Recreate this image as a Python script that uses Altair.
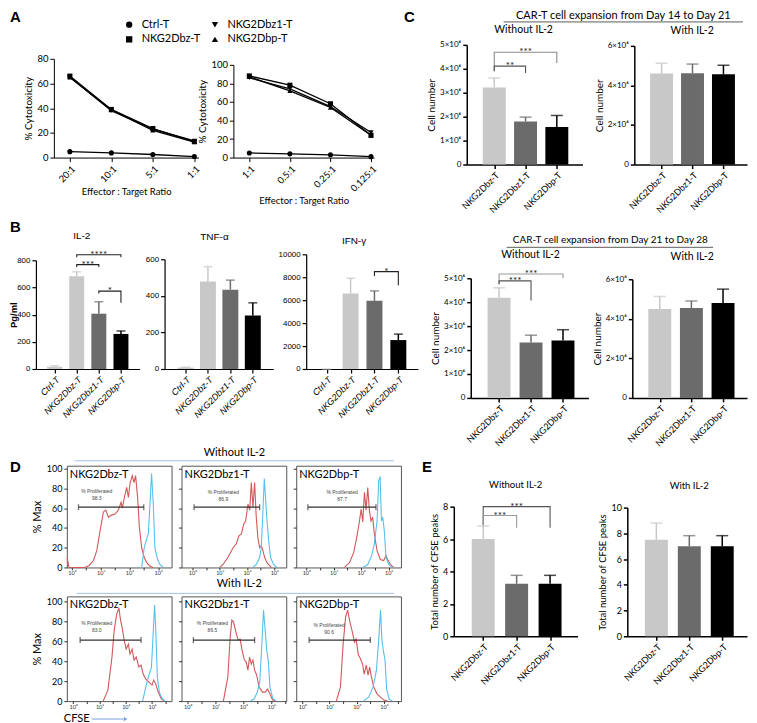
import altair as alt
import pandas as pd

FONT = "Lato"
ARIAL = "Liberation Sans"
BOLD = "Liberation Sans"
RED = "#d2585b"
BLUE = "#56c1ee"
HEADLINE = "#a6bfe6"

# ---------------------------------------------------------------- data
lines_series = ["Ctrl-T", "NKG2Dbz-T", "NKG2Dbz1-T", "NKG2Dbp-T"]
legend_order = ["Ctrl-T", "NKG2Dbz-T", "NKG2Dbz1-T", "NKG2Dbp-T"]
legend_shapes = ["circle", "square", "triangle-down", "triangle-up"]

a1_ratios = ["20:1", "10:1", "5:1", "1:1"]
a1_ctrl = [4.8, 3.8, 2.5, 0.8]
a1_bz = [66.0, 39.0, 23.5, 13.0]
a1_bz1 = [65.0, 38.0, 23.0, 13.5]
a1_bp = [65.0, 38.5, 22.0, 12.5]

a2_ratios = ["1:1", "0.5:1", "0.25:1", "0.125:1"]
a2_ctrl = [5.0, 4.0, 3.0, 1.0]
a2_bz = [88.0, 78.0, 58.0, 24.0]
a2_bz1 = [86.0, 74.0, 55.0, 27.0]
a2_bp = [87.0, 72.0, 54.0, 24.0]

b_groups = ["Ctrl-T", "NKG2Dbz-T", "NKG2Dbz1-T", "NKG2Dbp-T"]
b_colors = ["#5a5a5a", "#c9c9c9", "#8d8d92", "#2a2a2a"]
il2_mean = [17, 683, 407, 258]
il2_err = [7, 32, 88, 22]
tnf_mean = [8, 479, 434, 293]
tnf_err = [2, 81, 52, 69]
ifn_mean = [0, 6580, 5940, 2520]
ifn_err = [0, 1330, 870, 520]

c_groups = ["NKG2Dbz-T", "NKG2Dbz1-T", "NKG2Dbp-T"]
c_colors = ["#c8c8c8", "#6b6b6b", "#000000"]
c14_wo_mean = [3.22e6, 1.80e6, 1.57e6]
c14_wo_err = [0.40e6, 0.18e6, 0.48e6]
c14_w_mean = [4.60e6, 4.62e6, 4.56e6]
c14_w_err = [0.52e6, 0.46e6, 0.46e6]
c21_wo_mean = [4.19e6, 2.32e6, 2.40e6]
c21_wo_err = [0.41e6, 0.30e6, 0.45e6]
c21_w_mean = [4.50e6, 4.54e6, 4.80e6]
c21_w_err = [0.63e6, 0.36e6, 0.70e6]

e_wo_mean = [6.0, 3.24, 3.24]
e_wo_err = [0.8, 0.52, 0.52]
e_w_mean = [7.5, 7.0, 7.0]
e_w_err = [1.3, 0.82, 0.82]

# significance brackets: (from group, to group, top, left foot, right foot)
il2_brackets = [(1, 3, 841, 822, 822), (1, 2, 768, 751, 751), (2, 3, 573, 555, 488)]
il2_stars = ["****", "***", "*"]
ifn_brackets = [(2, 3, 8490, 8116, 7300)]
ifn_stars = ["*"]
c14_brackets = [(0, 2, 4.69e6, 3.90e6, 4.24e6), (0, 1, 4.11e6, 3.90e6, 3.82e6)]
c14_stars = ["***", "**"]
c21_brackets = [(0, 2, 5.18e6, 4.75e6, 5.00e6), (0, 1, 4.89e6, 4.75e6, 4.07e6)]
c21_stars = ["***", "***"]
e_brackets = [(0, 2, 8.0, 6.85, 6.69), (0, 1, 7.45, 6.85, 6.69)]
e_stars = ["***", "***"]

# CFSE histograms (log10 CFSE, % of max)
d_names = ["NKG2Dbz-T", "NKG2Dbz1-T", "NKG2Dbp-T", "NKG2Dbz-T", "NKG2Dbz1-T", "NKG2Dbp-T"]
d_prolif = ["98.3", "86.9", "87.7", "83.0", "86.5", "90.6"]
gate_lo = [0.46, 0.12, 0.12, 0.53, 0.41, 0.50]
gate_hi = [5.00, 4.93, 5.08, 5.16, 4.80, 5.00]
gate_y = [61, 61, 61, 61, 61, 61]

red1_x = [-0.33, -0.2, 0.9, 1.2, 1.5, 1.73, 1.96, 2.19, 2.36, 2.54, 2.77, 3.0, 3.23, 3.42, 3.51, 3.65, 3.81,
          3.93, 4.04, 4.2, 4.32, 4.43, 4.57, 4.69, 4.85, 5.03, 5.24, 5.47, 5.66]
red1_y = [10, 0, 0, 2, 7, 17, 37, 56, 58, 51, 53, 54, 58, 66, 60, 71, 81, 71, 85, 93, 86, 93, 71, 41, 20, 10, 4, 1, 0]
blue1_x = [4.85, 5.03, 5.2, 5.31, 5.43, 5.54, 5.66, 5.77, 5.96, 6.12, 6.35]
blue1_y = [0, 20, 29, 34, 64, 95, 64, 20, 8, 3, 0]

red2_x = [2.0, 2.24, 2.6, 2.98, 3.22, 3.41, 3.59, 3.76, 3.9, 4.07, 4.2, 4.32, 4.44, 4.56, 4.68, 4.8, 4.93,
          5.05, 5.15, 5.3, 5.5, 5.8]
red2_y = [0, 3, 10, 20, 24, 32, 34, 44, 47, 64, 58, 86, 61, 86, 51, 30, 20, 22, 18, 10, 4, 0]
blue2_x = [4.44, 4.68, 4.93, 5.05, 5.17, 5.27, 5.37, 5.46, 5.59, 5.73, 5.95, 6.2]
blue2_y = [0, 3, 10, 20, 58, 90, 68, 49, 27, 10, 3, 0]

red3_x = [2.78, 3.15, 3.46, 3.7, 3.87, 4.0, 4.12, 4.24, 4.36, 4.48, 4.6, 4.72, 4.84, 4.96, 5.16, 5.4, 5.64,
          5.81, 5.93, 6.13, 6.37]
red3_y = [0, 5, 15, 32, 46, 59, 46, 76, 58, 81, 58, 47, 51, 34, 17, 8, 7, 12, 8, 3, 0]
blue3_x = [4.12, 4.48, 4.77, 4.96, 5.16, 5.28, 5.38, 5.48, 5.57, 5.69, 5.81, 6.05, 6.3]
blue3_y = [0, 3, 12, 24, 47, 88, 92, 47, 51, 37, 10, 2, 0]

red4_x = [2.28, 2.64, 2.95, 3.12, 3.31, 3.48, 3.6, 3.72, 3.88, 4.03, 4.2, 4.32, 4.48, 4.63, 4.8, 4.99, 5.16,
          5.32, 5.52, 5.76, 6.0, 6.12, 6.28, 6.47, 6.71, 6.95]
red4_y = [0, 11, 44, 71, 87, 93, 81, 74, 61, 52, 57, 47, 52, 41, 44, 34, 36, 27, 22, 19, 16, 21, 17, 9, 2, 0]
blue4_x = [5.28, 5.52, 5.76, 5.95, 6.07, 6.19, 6.28, 6.4, 6.55, 6.71, 6.95]
blue4_y = [0, 14, 26, 34, 64, 96, 71, 24, 9, 4, 0]

red5_x = [2.56, 2.88, 3.05, 3.17, 3.29, 3.46, 3.61, 3.76, 3.9, 4.07, 4.2, 4.32, 4.44, 4.56, 4.68, 4.8, 4.95,
          5.12, 5.37, 5.56, 5.73, 5.9, 6.1, 6.3]
red5_y = [0, 24, 64, 81, 79, 69, 61, 62, 51, 41, 39, 31, 44, 37, 41, 31, 26, 14, 9, 9, 12, 7, 1, 0]
blue5_x = [4.51, 4.76, 5.0, 5.17, 5.32, 5.44, 5.54, 5.66, 5.78, 5.9, 6.1, 6.34]
blue5_y = [0, 2, 9, 19, 57, 91, 74, 52, 41, 14, 3, 0]

red6_x = [2.5, 2.8, 3.0, 3.18, 3.33, 3.5, 3.68, 3.83, 3.95, 4.12, 4.25, 4.43, 4.55, 4.7, 4.83, 4.95, 5.08,
          5.25, 5.5, 5.75, 6.0, 6.25]
red6_y = [0, 14, 57, 84, 91, 79, 69, 59, 62, 46, 43, 37, 27, 36, 26, 34, 24, 14, 7, 4, 1, 0]
blue6_x = [4.5, 4.88, 5.2, 5.45, 5.63, 5.75, 5.85, 5.95, 6.08, 6.2, 6.38, 6.63]
blue6_y = [0, 4, 14, 31, 64, 91, 61, 51, 41, 12, 2, 0]

d_red = [(red1_x, red1_y), (red2_x, red2_y), (red3_x, red3_y), (red4_x, red4_y), (red5_x, red5_y), (red6_x, red6_y)]
d_blue = [(blue1_x, blue1_y), (blue2_x, blue2_y), (blue3_x, blue3_y), (blue4_x, blue4_y), (blue5_x, blue5_y),
          (blue6_x, blue6_y)]

# ---------------------------------------------------------------- layout grid (page pixels)
COLX = [65, 180, 295, 410, 610]
COLW = [105, 105, 105, 190, 138]
ROWY = [43, 253, 465, 596]
ROWH = [181, 183, 102, 105]
D_XDOM = [[-0.35, 6.93], [-0.8, 6.88], [-0.73, 6.9], [-0.48, 7.48], [-0.44, 7.07], [-0.45, 7.25]]
D_YMAX = [103, 104.7]

ONE = alt.Data(values=[{"k": 0}])


def cell(r, c):
    return {"cx": COLX[c], "cy": ROWY[r], "w": COLW[c], "h": ROWH[r]}


def frame(r, c, x0, y0, x1, y1):
    g = cell(r, c)
    g.update(xr=[x0 - g["cx"], x1 - g["cx"]], yr=[y1 - g["cy"], y0 - g["cy"]],
             yoff=g["cx"] - x0, xoff=(y1 - g["cy"]) - g["h"])
    return g


def label(g, px, py, s, size=10, weight="normal", align="center", baseline="middle",
          color="black", font=FONT, style="normal"):
    return alt.Chart(ONE).mark_text(
        text=s, fontSize=size, fontWeight=weight, align=align, baseline=baseline,
        color=color, font=font, fontStyle=style
    ).encode(x=alt.value(px - g["cx"]), y=alt.value(py - g["cy"]))


def hline(g, x0, x1, y, color, width=1.0):
    return alt.Chart(ONE).mark_rule(color=color, strokeWidth=width).encode(
        x=alt.value(x0 - g["cx"]), x2=alt.value(x1 - g["cx"]), y=alt.value(y - g["cy"]))


def js_list(items):
    return "[" + ",".join("'" + s + "'" for s in items) + "]"


def line_panel(g, ratios, ctrl, bz, bz1, bp, xdom, ydom, yvals, legend, extra):
    rows = []
    for s, vals in zip(lines_series, [ctrl, bz, bz1, bp]):
        for i, v in enumerate(vals):
            rows.append({"i": i, "s": s, "v": v})
    df = pd.DataFrame(rows)
    xs = alt.Scale(domain=xdom, range=g["xr"], nice=False, zero=False)
    ys = alt.Scale(domain=ydom, range=g["yr"], nice=False, zero=False)
    xaxis = alt.Axis(values=[0, 1, 2, 3], labelExpr=js_list(ratios) + "[datum.value]", labelAngle=-45,
                     offset=g["xoff"], title="Effector : Target Ratio", labelFontSize=9.5,
                     titleFontSize=9.5, titlePadding=3)
    yaxis = alt.Axis(values=yvals, offset=g["yoff"], title="% Cytotoxicity", labelFontSize=9.5,
                     titleFontSize=10, titlePadding=3)
    X = alt.X("i:Q", scale=xs, axis=xaxis)
    Y = alt.Y("v:Q", scale=ys, axis=yaxis)
    lines = alt.Chart(df).mark_line(color="black", strokeWidth=1.3).encode(x=X, y=Y, detail="s:N")
    pts = alt.Chart(df).mark_point(filled=True, color="black", size=26, opacity=1).encode(
        x=X, y=Y, shape=alt.Shape("s:N", scale=alt.Scale(domain=legend_order, range=legend_shapes),
                                  legend=legend))
    return alt.layer(lines, pts, *extra).properties(width=g["w"], height=g["h"])


def bar_panel(g, cats, means, errs, colors, ydom, yvals, xdom, bar_w, cap_w, ytitle,
              tick_font=FONT, tick_style="normal", tick_size=9, ylab_font=FONT, ylab_size=8,
              ylab_expr=None, ylab_format=None, ytitle_size=10, ytitle_font=FONT, ytitle_weight="normal",
              ytitle_x=None, axis_w=1.5, brackets=(), stars=(), bracket_colors=(), extra=()):
    n = len(cats)
    df = pd.DataFrame({"i": list(range(n)), "cat": cats, "m": means,
                       "hi": [m + e for m, e in zip(means, errs)]})
    xs = alt.Scale(domain=xdom, range=g["xr"], nice=False, zero=False)
    ys = alt.Scale(domain=ydom, range=g["yr"], nice=False, zero=False)
    xaxis = alt.Axis(values=list(range(n)), labelExpr=js_list(cats) + "[datum.value]", labelAngle=-45,
                     offset=g["xoff"], title=None, labelFont=tick_font, labelFontStyle=tick_style,
                     labelFontSize=tick_size, domainWidth=axis_w, tickWidth=axis_w)
    ykw = dict(values=yvals, offset=g["yoff"], title=ytitle, labelFont=ylab_font, labelFontSize=ylab_size,
               titleFontSize=ytitle_size, titleFont=ytitle_font, titleFontWeight=ytitle_weight,
               domainWidth=axis_w, tickWidth=axis_w, titlePadding=3)
    if ylab_expr:
        ykw["labelExpr"] = ylab_expr
    if ylab_format:
        ykw["format"] = ylab_format
    if ytitle_x is not None:
        ykw["titleX"] = ytitle_x
    yaxis = alt.Axis(**ykw)

    def X(f):
        return alt.X(f + ":Q", scale=xs, axis=xaxis)

    def Y(f, **kw):
        return alt.Y(f + ":Q", scale=ys, axis=yaxis, **kw)

    color = alt.Color("cat:N", scale=alt.Scale(domain=cats, range=colors), legend=None)
    base = alt.Chart(df)
    layers = [
        base.mark_rule(strokeWidth=1.5).encode(x=X("i"), y=Y("m"), y2="hi:Q", color=color),
        base.mark_bar(size=bar_w, orient="vertical").encode(x=X("i"), y=Y("m", stack=None), color=color),
        base.mark_tick(orient="horizontal", size=cap_w, thickness=1.5).encode(x=X("i"), y=Y("hi"), color=color),
    ]
    for (i0, i1, top, lf, rf), col in zip(brackets, bracket_colors):
        d = pd.DataFrame({"x": [i0, i0, i1, i1], "y": [lf, top, top, rf], "o": [0, 1, 2, 3]})
        layers.append(alt.Chart(d).mark_line(color=col, strokeWidth=1.1).encode(
            x=X("x"), y=Y("y"), order="o:Q"))
    if len(brackets):
        sd = pd.DataFrame({"x": [(b[0] + b[1]) / 2 for b in brackets], "y": [b[2] for b in brackets],
                           "t": list(stars)})
        layers.append(alt.Chart(sd).mark_text(baseline="alphabetic", dy=3, fontSize=10, font=FONT,
                                              color="#222").encode(x=X("x"), y=Y("y"), text="t:N"))
    return alt.layer(*layers, *extra).properties(width=g["w"], height=g["h"])


def hist_panel(r, c, k, extra=()):
    g = cell(r, c)
    w, h = g["w"], g["h"]
    dom = D_XDOM[k]
    xs = alt.Scale(domain=dom, range=[0, w], nice=False, zero=False)
    ys = alt.Scale(domain=[0, D_YMAX[r - 2]], range=[h, 0], nice=False, zero=False)
    ticks = [v for v in range(8) if dom[0] <= v <= dom[1]]
    xaxis = alt.Axis(values=ticks,
                     labelExpr="datum.value % 2 == 0 ? '10' + ['⁰','¹','²','³','⁴','⁵','⁶','⁷'][datum.value] : ''",
                     labelFontSize=5.5, labelColor="#333", tickSize=2.5, tickColor="#333", domain=False,
                     title=None, labelPadding=1)
    first = c == 0
    ykw = dict(values=[0, 20, 40, 60, 80, 100], labels=first, tickSize=3, tickColor="#333", domain=False,
               labelFontSize=9, titleFontSize=11, titlePadding=4)
    ykw["title"] = "% Max" if first else None
    yaxis = alt.Axis(**ykw)

    def X(f):
        return alt.X(f + ":Q", scale=xs, axis=xaxis)

    def Y(f):
        return alt.Y(f + ":Q", scale=ys, axis=yaxis)

    rx, ry = d_red[k]
    bx, by = d_blue[k]
    red = alt.Chart(pd.DataFrame({"x": rx, "y": ry})).mark_line(color=RED, strokeWidth=1.1).encode(
        x=X("x"), y=Y("y"))
    blue = alt.Chart(pd.DataFrame({"x": bx, "y": by})).mark_line(color=BLUE, strokeWidth=1.1).encode(
        x=X("x"), y=Y("y"))
    gate = alt.Chart(pd.DataFrame({"lo": [gate_lo[k]], "hi": [gate_hi[k]], "y": [gate_y[k]]})).mark_rule(
        color="#333", strokeWidth=1.3).encode(x=X("lo"), x2="hi:Q", y=Y("y"))
    ends = alt.Chart(pd.DataFrame({"x": [gate_lo[k], gate_hi[k]], "y": [gate_y[k], gate_y[k]]})).mark_tick(
        orient="vertical", size=6, thickness=1.3, color="#333").encode(x=X("x"), y=Y("y"))
    tx = [30, 42, 46, 30, 31, 33][k]
    ty = [25, 26, 26, 27, 27, 29][k]
    texts = [
        label(g, g["cx"] + 3, g["cy"] + 9, d_names[k], size=11, align="left"),
        label(g, g["cx"] + tx, g["cy"] + ty, "% Proliferated", size=5, color="#444", font=BOLD),
        label(g, g["cx"] + tx, g["cy"] + ty + 7, d_prolif[k], size=5, color="#444", font=BOLD),
    ]
    return alt.layer(red, blue, gate, ends, *texts, *extra).properties(
        width=w, height=h, view=alt.ViewBackground(stroke="#555", strokeWidth=1))


def spacer(r, c):
    return alt.Chart(ONE).mark_text(text=" ").encode(x=alt.value(0), y=alt.value(0)).properties(
        width=COLW[c], height=ROWH[r])


# ---------------------------------------------------------------- panels
gA1 = frame(0, 0, 52, 57, 197, 156)
gA2 = frame(0, 1, 232, 63, 373, 156)
legA = alt.Legend(orient="none", legendX=57, legendY=-26, columns=2, title=None, labelFont=FONT,
                  labelFontSize=11, symbolSize=40, symbolFillColor="black", symbolStrokeColor="black",
                  symbolStrokeWidth=0, columnPadding=9, rowPadding=3, labelOffset=7)
A1 = line_panel(gA1, a1_ratios, a1_ctrl, a1_bz, a1_bz1, a1_bp, [-0.385, 3.1], [0, 80], [0, 20, 40, 60, 80],
                legA, [label(gA1, 8, 8, "A", size=15, weight="bold", align="left", baseline="top", font=BOLD)])
A2 = line_panel(gA2, a2_ratios, a2_ctrl, a2_bz, a2_bz1, a2_bp, [-0.393, 3.074], [0, 100],
                [0, 20, 40, 60, 80, 100], None, [])

SCI = "datum.value == 0 ? '0' : (datum.value / 1000000) + '×10⁶'"
gC1L = frame(0, 3, 466, 43, 582, 163)
gC1R = frame(0, 4, 634, 44, 747, 163)
C1L = bar_panel(gC1L, c_groups, c14_wo_mean, c14_wo_err, c_colors, [0, 5e6],
                [0, 1e6, 2e6, 3e6, 4e6, 5e6], [-0.72, 2.66], 23, 12, "Cell number", ylab_expr=SCI,
                brackets=c14_brackets, stars=c14_stars, bracket_colors=["#8c8c8c", "#555555"],
                extra=[label(gC1L, 403, 8, "C", size=15, weight="bold", align="left", baseline="top", font=BOLD),
                       label(gC1L, 623, 8, "CAR-T cell expansion from Day 14 to Day 21", size=11, baseline="top"),
                       hline(gC1L, 503, 743, 20, "#333", 0.8),
                       label(gC1L, 523, 28, "Without IL-2", size=10.5)])
C1R = bar_panel(gC1R, c_groups, c14_w_mean, c14_w_err, c_colors, [0, 6e6], [0, 2e6, 4e6, 6e6],
                [-0.72, 2.6], 23, 12, "Cell number", ylab_expr=SCI,
                extra=[label(gC1R, 692, 29, "With IL-2", size=10.5)])

gB1 = frame(1, 0, 34, 259, 138, 368)
gB2 = frame(1, 1, 163, 258, 272, 368)
gB3 = frame(1, 2, 305, 253, 417, 368)
bkw = dict(tick_font=ARIAL, tick_style="italic", tick_size=9, ylab_font=ARIAL, ylab_size=8, axis_w=1.2,
           ylab_format="d")
B1 = bar_panel(gB1, b_groups, il2_mean, il2_err, b_colors, [0, 800], [0, 200, 400, 600, 800],
               [-0.62, 3.62], 15, 9, "Pg/ml", ytitle_font=BOLD, ytitle_weight="bold", ytitle_size=9.5,
               ytitle_x=-17, brackets=il2_brackets, stars=il2_stars, bracket_colors=["#222"] * 3,
               extra=[label(gB1, 8, 219, "B", size=15, weight="bold", align="left", baseline="top", font=BOLD),
                      label(gB1, 80, 235, "IL-2", size=10, font=ARIAL)], **bkw)
B2 = bar_panel(gB2, b_groups, tnf_mean, tnf_err, b_colors, [0, 600], [0, 200, 400, 600],
               [-0.71, 3.69], 16, 9, None, extra=[label(gB2, 213, 236, "TNF-α", size=10, font=ARIAL)], **bkw)
B3 = bar_panel(gB3, b_groups, ifn_mean, ifn_err, b_colors, [0, 10000], [0, 2000, 4000, 6000, 8000, 10000],
               [-0.65, 3.61], 16, 9, None, brackets=ifn_brackets, stars=ifn_stars, bracket_colors=["#222"],
               extra=[label(gB3, 353, 240, "IFN-γ", size=10, font=ARIAL)], **bkw)

gC2L = frame(1, 3, 470, 277, 588, 397)
gC2R = frame(1, 4, 632, 278, 747, 397)
C2L = bar_panel(gC2L, c_groups, c21_wo_mean, c21_wo_err, c_colors, [0, 5e6],
                [0, 1e6, 2e6, 3e6, 4e6, 5e6], [-0.73, 2.64], 23, 12, "Cell number", ylab_expr=SCI,
                brackets=c21_brackets, stars=c21_stars, bracket_colors=["#9a9a9a", "#555555"],
                extra=[label(gC2L, 610, 239, "CAR-T cell expansion from Day 21 to Day 28", size=10),
                       hline(gC2L, 506, 713, 246, "#333", 0.8),
                       label(gC2L, 530, 254, "Without IL-2", size=10.5)])
C2R = bar_panel(gC2R, c_groups, c21_w_mean, c21_w_err, c_colors, [0, 6e6], [0, 2e6, 4e6, 6e6],
                [-0.71, 2.6], 23, 12, "Cell number", ylab_expr=SCI,
                extra=[label(gC2R, 692, 256, "With IL-2", size=10.5)])

gEL = frame(2, 3, 453, 506, 577, 636)
gER = frame(2, 4, 627, 507, 747, 636)
EL = bar_panel(gEL, c_groups, e_wo_mean, e_wo_err, c_colors, [0, 8], [0, 2, 4, 6, 8], [-0.73, 2.67], 23, 12,
               "Total number of CFSE peaks", ylab_size=9, ytitle_size=9.5, brackets=e_brackets, stars=e_stars,
               bracket_colors=["#555555", "#999999"],
               extra=[label(gEL, 421, 459, "E", size=15, weight="bold", align="left", baseline="top", font=BOLD),
                      label(gEL, 515, 484, "Without IL-2", size=9.5)])
ER = bar_panel(gER, c_groups, e_w_mean, e_w_err, c_colors, [0, 10], [0, 2, 4, 6, 8, 10], [-0.73, 2.6], 23, 12,
               "Total number of CFSE peaks", ylab_size=9, ytitle_size=9.5,
               extra=[label(gER, 689, 485, "With IL-2", size=9.5)])

gD1 = cell(2, 0)
gD2 = cell(3, 0)
D11 = hist_panel(2, 0, 0, extra=[
    label(gD1, 8, 459, "D", size=15, weight="bold", align="left", baseline="top", font=BOLD),
    label(gD1, 233, 452, "Without IL-2", size=11),
    hline(gD1, 73, 393, 460, HEADLINE, 1.0)])
D12 = hist_panel(2, 1, 1)
D13 = hist_panel(2, 2, 2)
D21 = hist_panel(3, 0, 3, extra=[
    label(gD2, 238, 584, "With IL-2", size=11),
    hline(gD2, 75, 393, 593, HEADLINE, 1.0),
    label(gD2, 62, 719, "CFSE", size=11, align="left"),
    hline(gD2, 90, 122, 719, "#7a9fd8", 1.0),
    alt.Chart(ONE).mark_point(shape="triangle-right", filled=True, size=18, color="#7a9fd8", opacity=1).encode(
        x=alt.value(124 - gD2["cx"]), y=alt.value(719 - gD2["cy"]))])
D22 = hist_panel(3, 1, 4)
D23 = hist_panel(3, 2, 5)

cells = [A1, A2, spacer(0, 2), C1L, C1R,
         B1, B2, B3, C2L, C2R,
         D11, D12, D13, EL, ER,
         D21, D22, D23, spacer(3, 3), spacer(3, 4)]

chart = alt.concat(*cells, columns=5, spacing={"row": 29, "column": 10}, bounds="flush", align="each").properties(
    padding=0
).configure_view(stroke="transparent").configure_axis(
    grid=False, domainColor="black", tickColor="black", labelColor="black", titleColor="black",
    labelFont=FONT, titleFont=FONT, titleFontWeight="normal", tickSize=4, labelPadding=2,
    labelOverlap=False, labelFlush=False
).configure_text(font=FONT)

chart.save("out.html", embed_options={"renderer": "svg", "actions": False})
